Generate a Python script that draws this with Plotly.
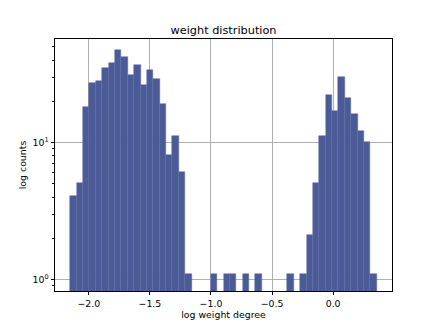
import plotly.graph_objects as go

# histogram data: counts per bin (log weight degree)
bin_start = -2.152
bin_width = 0.05227
counts = [4, 5, 18, 27, 28, 35, 38, 47, 42, 31, 37, 26, 34, 29, 19, 8, 11, 6,
          1, 0, 0, 0, 1, 0, 1, 1, 0, 1, 0, 1, 0, 0, 0, 0, 1, 0,
          1, 2, 5, 11, 22, 17, 30, 21, 16, 12, 10, 1]
x_ticks = [-2.0, -1.5, -1.0, -0.5, 0.0]
y_ticks = [1, 10]
y_tick_labels = ["10<sup>0</sup>", "10<sup>1</sup>"]
y_minor = [0.9, 2, 3, 4, 5, 6, 7, 8, 9, 20, 30, 40, 50]

centers = [bin_start + bin_width * (i + 0.5) for i in range(len(counts))]
yvals = [c if c > 0 else None for c in counts]

fig = go.Figure(go.Bar(
    x=centers, y=yvals, width=bin_width, base=0.1,
    marker=dict(color="#4b5b97", line=dict(color="#5d6ba2", width=0.5)),
))

# page body has an 8px margin; compensate so the plot sits where the reference has it
W, H = 428, 319
font = "DejaVu Sans"
fig.update_layout(
    width=W, height=H,
    margin=dict(l=46.5, r=W - 384.4, t=31.2, b=H - 283),
    paper_bgcolor="white", plot_bgcolor="white",
    showlegend=False, bargap=0,
    font=dict(family=font, size=9.4, color="black"),
    title=dict(text="weight distribution", x=0.5, xanchor="center", xref="paper",
               y=1 - 22 / H, yanchor="middle",
               font=dict(family=font, size=11.3, color="black")),
)
fig.update_xaxes(
    range=[-2.277, 0.482], tickvals=x_ticks, tickformat=".1f",
    automargin=False,
    showgrid=True, gridcolor="#b0b0b0", gridwidth=0.8,
    showline=True, linecolor="black", linewidth=0.8, mirror=True,
    ticks="outside", ticklen=3.5, tickwidth=0.8, tickcolor="black",
    zeroline=False,
    title=dict(text="log weight degree", font=dict(family=font, size=9.4), standoff=2),
)
fig.update_yaxes(
    type="log", range=[-0.084, 1.756],
    tickvals=y_ticks, ticktext=y_tick_labels,
    automargin=False,
    showgrid=True, gridcolor="#b0b0b0", gridwidth=0.8,
    showline=True, linecolor="black", linewidth=0.8, mirror=True,
    ticks="outside", ticklen=3.5, tickwidth=0.8, tickcolor="black",
    minor=dict(tickvals=y_minor, ticks="outside", ticklen=2, tickwidth=0.6,
               tickcolor="black", showgrid=False),
    zeroline=False,
    title=dict(text="log counts", font=dict(family=font, size=9.4), standoff=4),
)
fig.write_html("out.html")
